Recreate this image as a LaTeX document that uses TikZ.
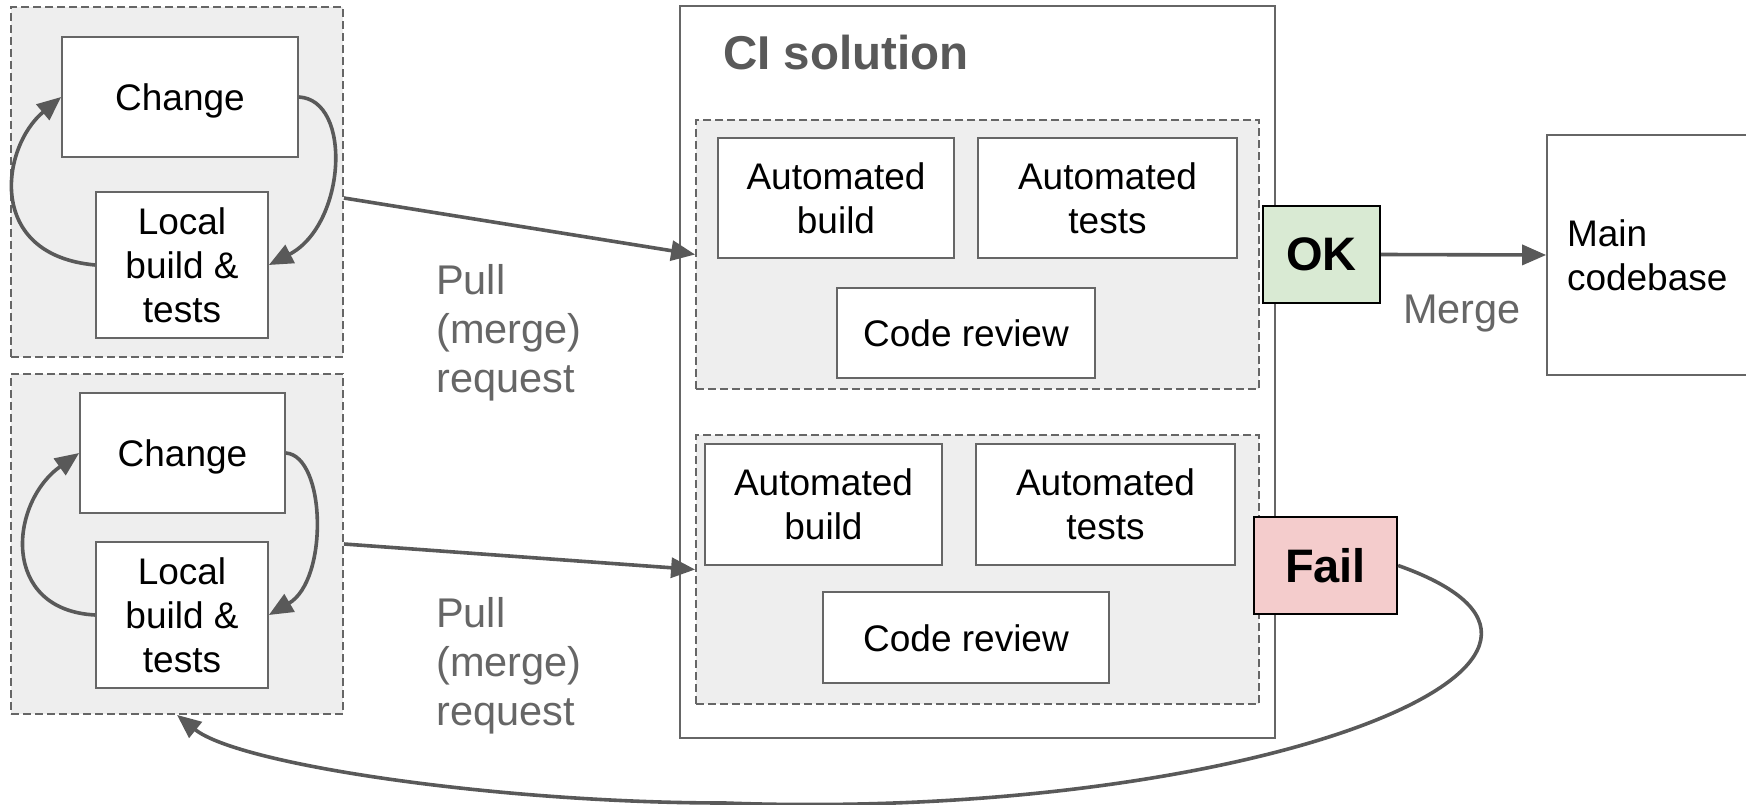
\documentclass[tikz,border=0pt]{standalone}
\usepackage{fontspec}
\setmainfont{Liberation Sans}
\usetikzlibrary{arrows.meta}

\definecolor{edge}{HTML}{666666}
\definecolor{conn}{HTML}{595959}
\definecolor{grpfill}{HTML}{EEEEEE}
\definecolor{okfill}{HTML}{D9EAD3}
\definecolor{failfill}{HTML}{F4CCCC}
\definecolor{labelgrey}{HTML}{666666}
\definecolor{titlegrey}{HTML}{595959}

\tikzset{
  box/.style={draw=edge, line width=1.7pt, fill=white, inner sep=0pt, align=center,
    font=\fontsize{37}{44}\selectfont},
  oneline/.style={text height=27pt, text depth=0pt},
  grp/.style={draw=edge, line width=1.8pt, dash pattern=on 8pt off 4pt, fill=grpfill, inner sep=0pt},
  flow/.style={draw=conn, line width=3.6pt, -{Triangle[length=24pt,width=20pt]}},
  verdict/.style={draw=black, line width=2.2pt, inner sep=0pt,
    font=\fontsize{47}{56}\selectfont\bfseries},
  lbl/.style={text=labelgrey, inner sep=0pt, align=left, font=\fontsize{41.5}{49}\selectfont},
}

\begin{document}
\begin{tikzpicture}[x=1pt, y=-1pt]
\useasboundingbox (0,0) rectangle (1746,805);

% developer workspaces
\node[grp, minimum width=332pt, minimum height=350pt] (grp1) at (177,182) {};
\node[grp, minimum width=332pt, minimum height=340pt] (grp2) at (177,544) {};

\node[box, oneline, minimum width=236pt, minimum height=120pt] (chg1) at (180,97) {Change};
\node[box, minimum width=172pt, minimum height=146pt] (loc1) at (182,265) {Local\\build \&\\tests};
\node[box, oneline, minimum width=205pt, minimum height=120pt] (chg2) at (182.5,453) {Change};
\node[box, minimum width=172pt, minimum height=146pt] (loc2) at (182,615) {Local\\build \&\\tests};

\draw[flow] (chg1.east) .. controls +(54,3) and +(77,-40) .. (loc1.east);
\draw[flow] (loc1.west) .. controls +(-110,-10) and +(-60,50) .. (chg1.west);
\draw[flow] (chg2.east) .. controls +(40,3) and +(60,-35) .. (loc2.east);
\draw[flow] (loc2.west) .. controls +(-95,-5) and +(-70,50) .. (chg2.west);

% CI solution
\node[draw=edge, line width=1.8pt, fill=white, minimum width=595pt, minimum height=732pt, inner sep=0pt] (ci) at (977.5,372) {};
\node[anchor=base west, inner sep=0pt, text=titlegrey, font=\fontsize{47.5}{56}\selectfont\bfseries] (title) at (723,70) {CI solution};

\node[grp, minimum width=563pt, minimum height=269pt] (ciup) at (977.5,254.5) {};
\node[grp, minimum width=563pt, minimum height=269pt] (cilo) at (977.5,569.5) {};

\node[box, minimum width=236pt, minimum height=120pt] (bld1) at (836,198) {Automated\\build};
\node[box, minimum width=259pt, minimum height=120pt] (tst1) at (1107.5,198) {Automated\\tests};
\node[box, oneline, minimum width=258pt, minimum height=90pt] (rev1) at (966,333) {Code review};

\node[box, minimum width=237pt, minimum height=121pt] (bld2) at (823.5,504.5) {Automated\\build};
\node[box, minimum width=259pt, minimum height=121pt] (tst2) at (1105.5,504.5) {Automated\\tests};
\node[box, oneline, minimum width=286pt, minimum height=91pt] (rev2) at (966,637.5) {Code review};

% outcomes
\node[verdict, fill=okfill, minimum width=117pt, minimum height=97pt] (ok) at (1321.5,254.5) {OK};
\node[verdict, fill=failfill, minimum width=143pt, minimum height=97pt] (fail) at (1325.5,565.5) {Fail};

\node[box, align=left, text width=173pt, inner xsep=20pt, minimum height=240pt] (main) at (1653.5,255) {Main\\codebase};

% labels (anchored at the baseline of their last line)
\node[lbl, anchor=base west] (pr1) at (436,392) {Pull\\(merge)\\request};
\node[lbl, anchor=base west] (pr2) at (436,725) {Pull\\(merge)\\request};
\node[lbl, anchor=base west] (mergelbl) at (1403,323) {Merge};

% connectors
\draw[flow] ([yshift=-16pt]grp1.east) -- (ciup.west);
\draw[flow] (grp2.east) -- (cilo.west);
\draw[flow] (ok.east) -- (main.west);
\draw[flow] (fail.east) .. controls (1665,660) and (1250,822) .. (725,803)
  .. controls (500,803) and (239,765) .. (grp2.south);
\end{tikzpicture}
\end{document}
